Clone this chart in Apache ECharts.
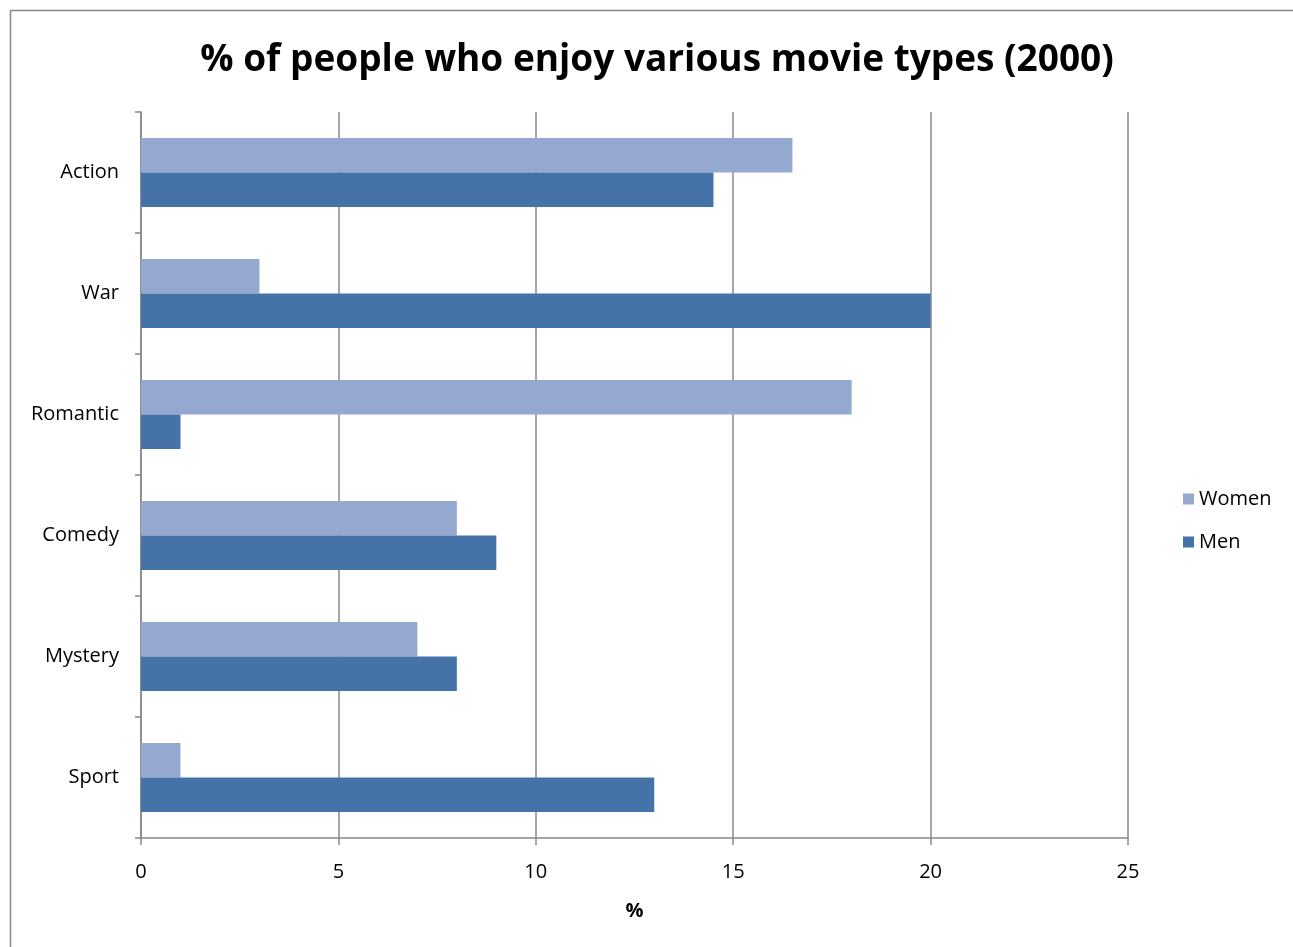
<!DOCTYPE html>
<html>
<head>
<meta charset="utf-8">
<script src="https://cdn.jsdelivr.net/npm/echarts@6/dist/echarts.min.js"></script>
<style>
html,body{margin:0;padding:0;background:#fff;}
#chart{width:1293px;height:947px;}
</style>
</head>
<body>
<div id="chart"></div>
<script>
const categories = ['Action', 'War', 'Romantic', 'Comedy', 'Mystery', 'Sport'];
const women = [16.5, 3, 18, 8, 7, 1];
const men = [14.5, 20, 1, 9, 8, 13];
const xTicks = [0, 5, 10, 15, 20, 25];

const chart = echarts.init(document.getElementById('chart'));
const font = '"Open Sans", "Noto Sans", sans-serif';
chart.setOption({
  animation: false,
  backgroundColor: '#fff',
  title: {
    text: '% of people who enjoy various movie types (2000)',
    left: 652,
    textAlign: 'center',
    top: 37,
    textStyle: { fontFamily: font, fontSize: 37, fontWeight: 'bold', color: '#000' }
  },
  graphic: [{
    type: 'rect',
    shape: { x: 10.5, y: 10.5, width: 1300, height: 960 },
    style: { fill: 'none', stroke: '#888', lineWidth: 1.5 },
    silent: true
  }],
  legend: {
    orient: 'vertical',
    left: 1178,
    top: 484,
    itemWidth: 11,
    itemHeight: 11,
    itemGap: 23,
    icon: 'rect',
    textStyle: { fontFamily: font, fontSize: 20, color: '#000' },
    data: ['Women', 'Men']
  },
  grid: { left: 141, right: 165, top: 112, bottom: 109, containLabel: false },
  xAxis: {
    type: 'value',
    min: xTicks[0],
    max: xTicks[xTicks.length - 1],
    interval: 5,
    name: '%',
    nameLocation: 'middle',
    nameGap: 63,
    nameTextStyle: { fontFamily: font, fontSize: 20, fontWeight: 'bold', color: '#000' },
    axisLine: { show: true, lineStyle: { color: '#888', width: 1.5 } },
    axisTick: { show: true, length: 7, lineStyle: { color: '#888', width: 1.5 } },
    axisLabel: { fontFamily: font, fontSize: 20, color: '#000', margin: 24 },
    splitLine: { show: true, lineStyle: { color: '#888', width: 1.5 } }
  },
  yAxis: {
    type: 'category',
    data: categories,
    inverse: true,
    axisLine: { show: true, lineStyle: { color: '#888', width: 1.5 } },
    axisTick: { show: true, length: 6, inside: false, lineStyle: { color: '#888', width: 1.5 } },
    axisLabel: { fontFamily: font, fontSize: 20, color: '#000', margin: 22 },
    splitLine: { show: false }
  },
  series: [
    {
      name: 'Women', type: 'bar', data: women,
      barGap: '0%', barCategoryGap: '43%',
      itemStyle: { color: '#95A9D0' }
    },
    {
      name: 'Men', type: 'bar', data: men,
      barGap: '0%', barCategoryGap: '43%',
      itemStyle: { color: '#4572A7' }
    }
  ]
});
</script>
</body>
</html>
